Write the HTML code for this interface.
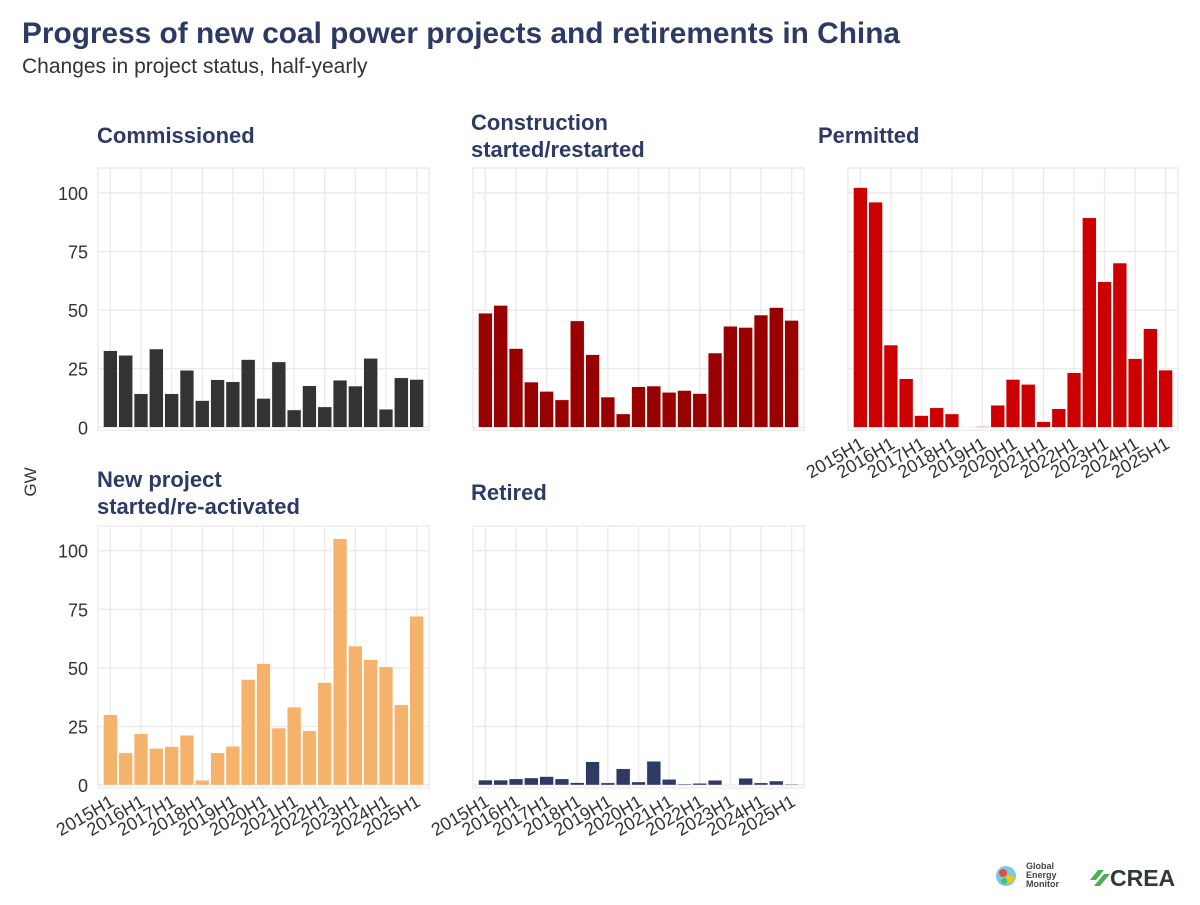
<!DOCTYPE html>
<html><head><meta charset="utf-8"><style>
html,body{margin:0;padding:0;background:#fff;}
svg text{font-family:"Liberation Sans",sans-serif;}
</style></head><body>
<svg id="chart" width="1200" height="900" viewBox="0 0 1200 900" xmlns="http://www.w3.org/2000/svg">
<text x="22" y="43" font-size="30" font-weight="bold" fill="#2e3a66" textLength="878" lengthAdjust="spacingAndGlyphs">Progress of new coal power projects and retirements in China</text>
<text x="22" y="73" font-size="21" fill="#333">Changes in project status, half-yearly</text>
<text transform="translate(36,482) rotate(-90)" font-size="17" fill="#333" text-anchor="middle">GW</text>
<g>
<circle cx="1006" cy="876" r="10" fill="#7ec8e3"/><circle cx="1003" cy="873" r="4" fill="#e84c3d"/><circle cx="1010" cy="879" r="4" fill="#f1c40f"/><circle cx="1004" cy="881" r="3" fill="#2ecc71"/>
<text x="1026" y="869" font-size="9" font-weight="bold" fill="#444">Global</text>
<text x="1026" y="878" font-size="9" font-weight="bold" fill="#444">Energy</text>
<text x="1026" y="887" font-size="9" font-weight="bold" fill="#444">Monitor</text>
</g>
<g>
<path d="M1090 880 l8 -10 l6 0 l-8 10 z M1094 886 l10 -12 l6 0 l-10 12 z" fill="#4caf50"/>
<text x="1110" y="886" font-size="23" font-weight="bold" fill="#2f3b33">CREA</text>
</g>
<g id="panels"></g>
</svg>
<script>
const categories = ["2015H1","2015H2","2016H1","2016H2","2017H1","2017H2","2018H1","2018H2","2019H1","2019H2","2020H1","2020H2","2021H1","2021H2","2022H1","2022H2","2023H1","2023H2","2024H1","2024H2","2025H1"];
const commissioned = [32.7,30.7,14.3,33.4,14.3,24.3,11.4,20.3,19.4,28.9,12.3,27.9,7.4,17.7,8.7,20.1,17.6,29.4,7.7,21.1,20.4];
const construction = [48.7,52,33.6,19.3,15.3,11.7,45.4,31,12.9,5.7,17.3,17.6,14.9,15.7,14.4,31.7,43.1,42.6,47.9,51.1,45.6];
const permitted = [102.3,96.1,35.1,20.7,5,8.3,5.7,0,0.3,9.4,20.4,18.3,2.4,7.9,23.3,89.4,62.1,70.1,29.3,42.1,24.4];
const newProjects = [30,13.7,21.9,15.6,16.4,21.2,2,13.7,16.5,45,51.8,24.3,33.2,23.1,43.7,105.1,59.3,53.5,50.5,34.2,72];
const retired = [2.1,2.1,2.6,3,3.6,2.6,1,9.9,0.9,6.9,1.3,10.1,2.4,0.4,0.7,2,0,2.9,0.9,1.7,0.3];
const yTicks = [0,25,50,75,100];

const NS="http://www.w3.org/2000/svg";
const root=document.getElementById('panels');
function mk(tag,attrs,parent){const e=document.createElementNS(NS,tag);for(const k in attrs)e.setAttribute(k,attrs[k]);parent.appendChild(e);return e;}

const panels=[
 {title:["Commissioned"],tx:97,ty:[143],x0:98,x1:429,top:168,zero:427.3,vals:commissioned,color:"#333333",yl:true,xl:false,name:"commissioned"},
 {title:["Construction","started/restarted"],tx:471,ty:[130,157],x0:473,x1:804,top:168,zero:427.3,vals:construction,color:"#990000",yl:false,xl:false,name:"construction"},
 {title:["Permitted"],tx:818,ty:[143],x0:848,x1:1178,top:168,zero:427.3,vals:permitted,color:"#cc0000",yl:false,xl:true,name:"permitted"},
 {title:["New project","started/re-activated"],tx:97,ty:[487,514],x0:98,x1:429,top:526,zero:785,vals:newProjects,color:"#f4b26b",yl:true,xl:true,name:"new-project"},
 {title:["Retired"],tx:471,ty:[500],x0:473,x1:804,top:526,zero:785,vals:retired,color:"#2e3a66",yl:false,xl:true,name:"retired"}
];
const unit=2.343;
panels.forEach(p=>{
 const g=mk('g',{},root);
 
 
 const n=categories.length;
 const pad=5.5;
 const band=(p.x1-p.x0-2*pad)/(n-1+0.9);
 const xc=i=>p.x0+pad+band*(0.45+i);
 const y=v=>p.zero-v*unit;
 p.title.forEach((t,k)=>{const tt=mk('text',{x:p.tx,y:p.ty[k],'font-size':22,'font-weight':'bold',fill:'#2e3a66'},g);tt.textContent=t;
  
  });
 yTicks.forEach(v=>{const l=mk('line',{x1:p.x0,x2:p.x1,y1:y(v),y2:y(v),stroke:'#ebebeb','stroke-width':1.4},g);
  
  
  if(p.yl){const t=mk('text',{x:p.x0-10,y:y(v)+7,'font-size':18,fill:'#333','text-anchor':'end'},g);t.textContent=v;
   
   }});
 categories.forEach((c,i)=>{if(i%2===0){mk('line',{x1:xc(i),x2:xc(i),y1:p.top,y2:p.zero+2,stroke:'#ebebeb','stroke-width':1.4},g);
  if(p.xl){const t=mk('text',{'font-size':18,fill:'#333','text-anchor':'end',transform:`translate(${xc(i)+5},${p.zero+20}) rotate(-30)`},g);t.textContent=c;
   
   }}});
 mk('rect',{x:p.x0,y:p.top,width:p.x1-p.x0,height:p.zero+3-p.top,fill:'none',stroke:'#ebebeb','stroke-width':1.4},g);
 p.vals.forEach((v,i)=>{const w=band*0.9;const r=mk('rect',{x:xc(i)-w/2,y:y(v),width:w,height:Math.max(v*unit,0.3),fill:p.color,stroke:'#fff','stroke-width':0.4},g);
  
  });
});
</script>
</body></html>
